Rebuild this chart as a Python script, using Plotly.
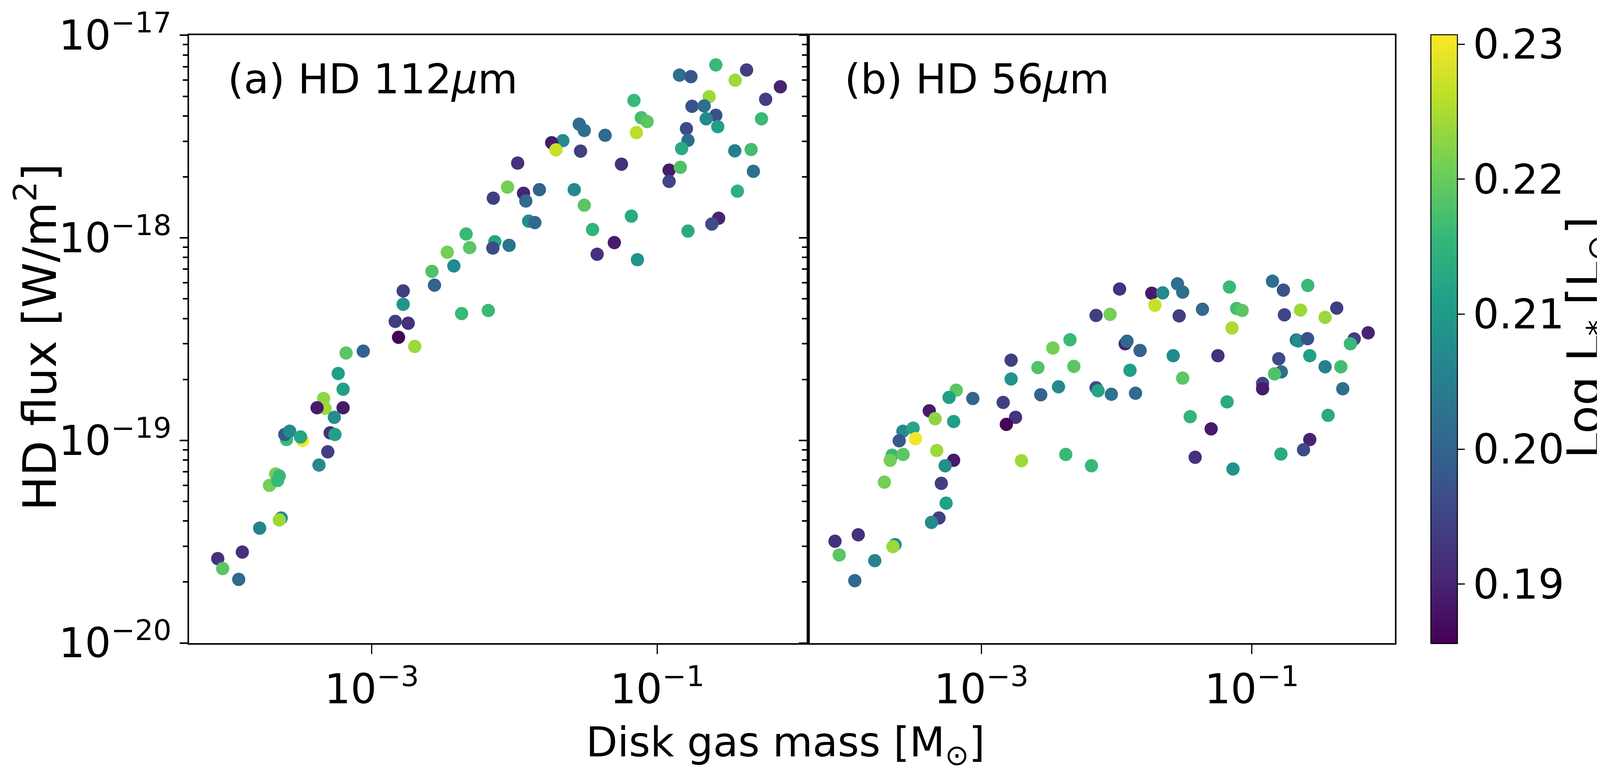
import plotly.graph_objects as go

# ---------------- data ----------------
# Panel (a): HD 112 micron
mass_a = [0.257, 0.422, 0.143, 0.172, 0.351, 0.728, 0.231, 0.574, 0.0686, 0.175,
          0.213, 0.257, 0.220, 0.0773, 0.0849, 0.537, 0.265, 0.0284, 0.0308, 0.160,
          0.0431, 0.0714, 0.164, 0.0218, 0.0182, 0.0195, 0.148, 0.0290, 0.349, 0.454,
          0.01052, 0.0561, 0.121, 0.145, 0.471, 0.121, 0.00893, 0.01156, 0.01493, 0.0071,
          0.0120, 0.0262, 0.364, 0.0308, 0.0658, 0.269, 0.241, 0.01256, 0.01388, 0.0352,
          0.164, 0.00458, 0.0500, 0.00728, 0.00705, 0.00485, 0.00916, 0.00338, 0.0379, 0.0726,
          0.00376, 0.00264, 0.00275, 0.00166, 0.00166, 0.00426, 0.00655, 0.00146, 0.00180, 0.00154,
          0.00200, 6.61e-4, 8.72e-4, 5.82e-4, 6.30e-4, 4.60e-4, 4.72e-4, 4.14e-4, 6.30e-4, 5.47e-4,
          5.11e-4, 5.52e-4, 2.53e-4, 2.46e-4, 2.66e-4, 3.28e-4, 3.17e-4, 4.92e-4, 4.27e-4, 2.12e-4,
          1.92e-4, 2.25e-4, 2.19e-4, 2.32e-4, 2.25e-4, 1.64e-4, 1.24e-4, 8.34e-5, 9.03e-5, 1.17e-4]
flux_a = [7.14e-18, 6.74e-18, 6.36e-18, 6.25e-18, 6.0e-18, 5.57e-18, 4.98e-18, 4.83e-18, 4.77e-18, 4.46e-18,
          4.48e-18, 4.03e-18, 3.87e-18, 3.92e-18, 3.75e-18, 3.87e-18, 3.54e-18, 3.64e-18, 3.39e-18, 3.46e-18,
          3.21e-18, 3.31e-18, 3.03e-18, 3.02e-18, 2.95e-18, 2.72e-18, 2.76e-18, 2.68e-18, 2.69e-18, 2.73e-18,
          2.34e-18, 2.31e-18, 2.16e-18, 2.23e-18, 2.13e-18, 1.90e-18, 1.78e-18, 1.66e-18, 1.73e-18, 1.57e-18,
          1.52e-18, 1.73e-18, 1.70e-18, 1.45e-18, 1.28e-18, 1.25e-18, 1.17e-18, 1.21e-18, 1.19e-18, 1.10e-18,
          1.08e-18, 1.045e-18, 9.48e-19, 9.57e-19, 8.91e-19, 8.95e-19, 9.19e-19, 8.49e-19, 8.30e-19, 7.80e-19,
          7.27e-19, 6.83e-19, 5.84e-19, 5.47e-19, 4.70e-19, 4.23e-19, 4.38e-19, 3.87e-19, 3.79e-19, 3.23e-19,
          2.91e-19, 2.70e-19, 2.76e-19, 2.14e-19, 1.79e-19, 1.61e-19, 1.44e-19, 1.45e-19, 1.45e-19, 1.30e-19,
          1.09e-19, 1.07e-19, 1.01e-19, 1.07e-19, 1.11e-19, 1.00e-19, 1.04e-19, 8.79e-20, 7.56e-20, 6.83e-20,
          6.0e-20, 6.68e-20, 6.34e-20, 4.14e-20, 4.05e-20, 3.69e-20, 2.81e-20, 2.61e-20, 2.33e-20, 2.06e-20]
lum_a = [0.216, 0.194, 0.202, 0.198, 0.224, 0.190, 0.224, 0.194, 0.216, 0.197,
         0.202, 0.197, 0.207, 0.217, 0.219, 0.216, 0.211, 0.202, 0.202, 0.196,
         0.201, 0.226, 0.202, 0.207, 0.189, 0.227, 0.213, 0.194, 0.205, 0.217,
         0.192, 0.192, 0.189, 0.218, 0.202, 0.195, 0.221, 0.190, 0.200, 0.194,
         0.201, 0.207, 0.214, 0.219, 0.213, 0.190, 0.196, 0.208, 0.201, 0.215,
         0.213, 0.216, 0.189, 0.212, 0.196, 0.219, 0.203, 0.221, 0.192, 0.209,
         0.207, 0.218, 0.200, 0.194, 0.209, 0.216, 0.216, 0.194, 0.192, 0.186,
         0.224, 0.219, 0.200, 0.211, 0.211, 0.223, 0.224, 0.189, 0.189, 0.208,
         0.192, 0.211, 0.216, 0.198, 0.207, 0.230, 0.212, 0.194, 0.207, 0.221,
         0.221, 0.216, 0.216, 0.207, 0.224, 0.206, 0.192, 0.192, 0.219, 0.201]

# Panel (b): HD 56 micron
mass_b = [0.01052, 0.0182, 0.0219, 0.0192, 0.0282, 0.0308, 0.0683, 0.142, 0.171, 0.259,
          0.00705, 0.00895, 0.0290, 0.0431, 0.0771, 0.0848, 0.0713, 0.174, 0.229, 0.348,
          0.424, 0.724, 0.571, 0.535, 0.213, 0.220, 0.258, 0.268, 0.158, 0.165,
          0.147, 0.120, 0.120, 0.348, 0.455, 0.470, 0.366, 0.268, 0.241, 0.164,
          0.0725, 0.0381, 0.0500, 0.0350, 0.0656, 0.0308, 0.0561, 0.0262, 0.01256, 0.01157,
          0.01194, 0.01491, 0.00166, 0.00262, 0.00338, 0.00452, 0.00483, 0.00166, 0.00372, 0.00275,
          0.00705, 0.00729, 0.00914, 0.0138, 0.00145, 0.00179, 0.00153, 6.52e-4, 5.77e-4, 8.65e-4,
          4.12e-4, 4.55e-4, 6.24e-4, 2.63e-4, 3.13e-4, 3.26e-4, 2.47e-4, 2.19e-4, 2.12e-4, 2.64e-4,
          4.68e-4, 6.24e-4, 5.40e-4, 0.00198, 0.00421, 0.00652, 1.92e-4, 5.06e-4, 5.49e-4, 4.86e-4,
          4.28e-4, 8.28e-5, 1.23e-4, 8.90e-5, 2.30e-4, 2.22e-4, 1.63e-4, 1.16e-4]
flux_b = [5.59e-19, 5.33e-19, 5.35e-19, 4.65e-19, 5.93e-19, 5.40e-19, 5.72e-19, 6.11e-19, 5.52e-19, 5.82e-19,
          4.14e-19, 4.19e-19, 4.12e-19, 4.44e-19, 4.48e-19, 4.38e-19, 3.59e-19, 4.17e-19, 4.40e-19, 4.05e-19,
          4.50e-19, 3.40e-19, 3.17e-19, 3.00e-19, 3.13e-19, 3.10e-19, 3.18e-19, 2.62e-19, 2.53e-19, 2.18e-19,
          2.13e-19, 1.91e-19, 1.80e-19, 2.31e-19, 2.31e-19, 1.80e-19, 1.33e-19, 1.01e-19, 8.99e-20, 8.57e-20,
          7.23e-20, 8.26e-20, 1.14e-19, 1.31e-19, 1.55e-19, 2.03e-19, 2.62e-19, 2.62e-19, 2.22e-19, 3.00e-19,
          3.09e-19, 2.78e-19, 2.49e-19, 2.29e-19, 2.86e-19, 3.14e-19, 2.32e-19, 2.01e-19, 1.84e-19, 1.68e-19,
          1.82e-19, 1.76e-19, 1.69e-19, 1.71e-19, 1.54e-19, 1.30e-19, 1.20e-19, 1.77e-19, 1.63e-19, 1.61e-19,
          1.40e-19, 1.28e-19, 1.24e-19, 1.11e-19, 1.15e-19, 1.02e-19, 9.96e-20, 8.45e-20, 7.98e-20, 8.53e-20,
          8.91e-20, 7.98e-20, 7.50e-20, 7.94e-20, 8.53e-20, 7.50e-20, 6.22e-20, 6.14e-20, 4.90e-20, 4.14e-20,
          3.94e-20, 3.18e-20, 3.42e-20, 2.72e-20, 3.06e-20, 2.99e-20, 2.55e-20, 2.03e-20]
lum_b = [0.192, 0.189, 0.207, 0.227, 0.202, 0.202, 0.216, 0.202, 0.197, 0.216,
         0.194, 0.221, 0.194, 0.201, 0.217, 0.219, 0.225, 0.195, 0.224, 0.224,
         0.194, 0.190, 0.194, 0.216, 0.202, 0.207, 0.197, 0.211, 0.196, 0.202,
         0.218, 0.195, 0.189, 0.205, 0.217, 0.202, 0.213, 0.190, 0.196, 0.213,
         0.209, 0.192, 0.189, 0.215, 0.213, 0.219, 0.192, 0.207, 0.211, 0.190,
         0.201, 0.200, 0.194, 0.218, 0.221, 0.216, 0.219, 0.209, 0.207, 0.200,
         0.196, 0.212, 0.203, 0.201, 0.194, 0.192, 0.186, 0.219, 0.211, 0.200,
         0.189, 0.223, 0.211, 0.207, 0.212, 0.230, 0.198, 0.216, 0.221, 0.219,
         0.224, 0.189, 0.208, 0.224, 0.216, 0.216, 0.221, 0.194, 0.211, 0.194,
         0.207, 0.192, 0.192, 0.219, 0.207, 0.224, 0.206, 0.201]

panel_labels = ["(a) HD 112<i>μ</i>m", "(b) HD 56<i>μ</i>m"]
x_tick_vals = [1e-3, 1e-1]
x_tick_text = ["10<sup>−3</sup>", "10<sup>−1</sup>"]
y_tick_vals = [1e-20, 1e-19, 1e-18, 1e-17]
y_tick_text = ["10<sup>−20</sup>", "10<sup>−19</sup>", "10<sup>−18</sup>", "10<sup>−17</sup>"]
cbar_vals = [0.19, 0.20, 0.21, 0.22, 0.23]
cbar_text = ["0.19", "0.20", "0.21", "0.22", "0.23"]
lum_min, lum_max = 0.1856, 0.2307

# ---------------- figure ----------------
# The browser photographs the page at a 1.2 device-pixel ratio with a viewport of
# about 4167 x 2000 CSS px; the figure is sized to fill that viewport.
W0, H0 = 5000, 2000          # reference pixel grid (used for layout fractions)
KX = 1 / 1.2                 # horizontal CSS px per reference px
W, H = round(W0 * KX), 2000
FONT = "DejaVu Sans"
FS = round(126 * KX)         # horizontal texts
FS_ROT = 118                 # rotated (vertical) titles

fig = go.Figure()
fig.add_trace(go.Scatter(x=mass_a, y=flux_a, mode="markers", xaxis="x", yaxis="y",
                         marker=dict(size=34, color=lum_a, coloraxis="coloraxis",
                                     line=dict(width=0)), showlegend=False))
fig.add_trace(go.Scatter(x=mass_b, y=flux_b, mode="markers", xaxis="x2", yaxis="y2",
                         marker=dict(size=34, color=lum_b, coloraxis="coloraxis",
                                     line=dict(width=0)), showlegend=False))

minor_y = [m * 10.0 ** e for e in range(-20, -17) for m in range(2, 10)]

x_left_a, x_right_a = 571 / W0, 2473 / W0
x_left_b, x_right_b = 2473 / W0, 4275 / W0
y_bot, y_top = 1 - 1639 / H0, 1 - 82 / H0

common_x = dict(type="log", range=[-4.28, 0.057], tickvals=x_tick_vals, ticktext=x_tick_text,
                ticks="outside", ticklen=24, tickwidth=3, tickcolor="black",
                showline=True, linewidth=4, linecolor="black", mirror=True,
                showgrid=False, zeroline=False, automargin=False, ticklabeloverflow="allow",
                tickfont=dict(family=FONT, size=FS, color="black"))
common_y = dict(type="log", range=[-20.0008, -16.9992], tickvals=y_tick_vals, ticktext=y_tick_text,
                ticks="outside", ticklen=20, tickwidth=4, tickcolor="black",
                showline=True, linewidth=3.5, linecolor="black", mirror=True,
                showgrid=False, zeroline=False, automargin=False, ticklabeloverflow="allow",
                minor=dict(tickvals=minor_y, ticks="outside", ticklen=12, tickwidth=3.5,
                           tickcolor="black", showgrid=False),
                tickfont=dict(family=FONT, size=FS, color="black"))

fig.update_layout(
    width=W, height=H,
    margin=dict(l=0, r=0, t=0, b=0),
    paper_bgcolor="white", plot_bgcolor="white",
    font=dict(family=FONT, size=FS, color="black"),
    xaxis=dict(common_x, domain=[x_left_a, x_right_a], anchor="y"),
    yaxis=dict(common_y, domain=[y_bot, y_top], anchor="x"),
    xaxis2=dict(common_x, domain=[x_left_b, x_right_b], anchor="y2"),
    yaxis2=dict(common_y, domain=[y_bot, y_top], anchor="x2", showticklabels=False),
    coloraxis=dict(
        colorscale="Viridis", cmin=lum_min, cmax=lum_max,
        colorbar=dict(
            x=4386 / W0, xanchor="left", y=1 - 1640 / H0, yanchor="bottom",
            len=(1640 - 81) / H0, lenmode="fraction",
            thickness=round(82 * KX), thicknessmode="pixels", xpad=0, ypad=0,
            outlinewidth=2.5, outlinecolor="black",
            tickvals=cbar_vals, ticktext=cbar_text,
            ticks="outside", ticklen=18, tickwidth=3, tickcolor="black",
            tickfont=dict(family=FONT, size=FS, color="black"),
            title=dict(text=""),
        ),
    ),
)

annotations = [
    dict(text=panel_labels[0], x=688 / W0, y=1 - 195 / H0, xref="paper", yref="paper",
         xanchor="left", yanchor="middle", showarrow=False,
         font=dict(family=FONT, size=FS, color="black")),
    dict(text=panel_labels[1], x=2582 / W0, y=1 - 195 / H0, xref="paper", yref="paper",
         xanchor="left", yanchor="middle", showarrow=False,
         font=dict(family=FONT, size=FS, color="black")),
    dict(text="Disk gas mass [M<sub>⊙</sub>]", x=2403 / W0, y=1 - 1900 / H0,
         xref="paper", yref="paper", xanchor="center", yanchor="middle", showarrow=False,
         font=dict(family=FONT, size=FS, color="black")),
    dict(text="HD flux [W/m<sup>2</sup>]", x=102 / W0, y=1 - 855 / H0, textangle=-90,
         xref="paper", yref="paper", xanchor="center", yanchor="middle", showarrow=False,
         font=dict(family=FONT, size=FS_ROT, color="black")),
    dict(text="Log L<sub>*</sub> [L<sub>⊙</sub>]", x=4866 / W0, y=1 - 856 / H0, textangle=-90,
         xref="paper", yref="paper", xanchor="center", yanchor="middle", showarrow=False,
         font=dict(family=FONT, size=FS_ROT, color="black")),
]
fig.update_layout(annotations=annotations)

fig.write_html("out.html")
